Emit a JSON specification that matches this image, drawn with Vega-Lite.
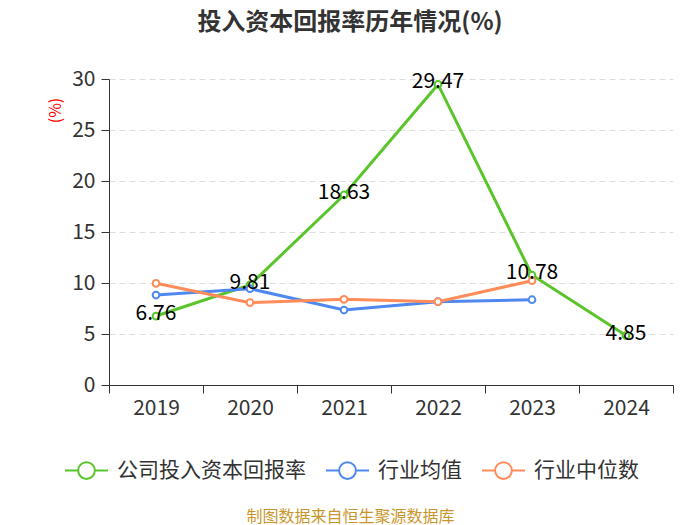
{
  "$schema": "https://vega.github.io/schema/vega-lite/v6.json",
  "autosize": "none",
  "width": 564,
  "height": 306,
  "padding": {"left": 109, "top": 79, "right": 27, "bottom": 140},
  "background": "white",
  "title": {
    "text": "投入资本回报率历年情况(%)",
    "font": "Noto Sans CJK SC",
    "fontSize": 24,
    "fontWeight": "bold",
    "color": "#333333",
    "anchor": "middle",
    "dx": -41,
    "offset": 33
  },
  "data": {
    "values": [
      {"year": "2019", "series": "公司投入资本回报率", "value": 6.76},
      {"year": "2020", "series": "公司投入资本回报率", "value": 9.81},
      {"year": "2021", "series": "公司投入资本回报率", "value": 18.63},
      {"year": "2022", "series": "公司投入资本回报率", "value": 29.47},
      {"year": "2023", "series": "公司投入资本回报率", "value": 10.78},
      {"year": "2024", "series": "公司投入资本回报率", "value": 4.85},
      {"year": "2019", "series": "行业均值", "value": 8.82},
      {"year": "2020", "series": "行业均值", "value": 9.44},
      {"year": "2021", "series": "行业均值", "value": 7.35},
      {"year": "2022", "series": "行业均值", "value": 8.17},
      {"year": "2023", "series": "行业均值", "value": 8.36},
      {"year": "2019", "series": "行业中位数", "value": 9.97},
      {"year": "2020", "series": "行业中位数", "value": 8.07},
      {"year": "2021", "series": "行业中位数", "value": 8.4},
      {"year": "2022", "series": "行业中位数", "value": 8.17},
      {"year": "2023", "series": "行业中位数", "value": 10.22}
    ]
  },
  "encoding": {
    "x": {
      "field": "year",
      "type": "ordinal",
      "bandPosition": 0.5,
      "scale": {"type": "band", "paddingInner": 0, "paddingOuter": 0},
      "axis": {
        "labelAngle": 0,
        "labelFont": "Noto Sans CJK SC",
        "labelFontSize": 21,
        "labelColor": "#333333",
        "labelPadding": 4,
        "tickSize": 8,
        "tickColor": "#333333",
        "tickBand": "extent",
        "domainColor": "#333333",
        "grid": false,
        "title": "制图数据来自恒生聚源数据库",
        "titleFont": "Noto Sans CJK SC",
        "titleFontSize": 16,
        "titleFontWeight": "normal",
        "titleColor": "#c9962d",
        "titleX": 241,
        "titleY": 131,
        "titleAlign": "center",
        "titleBaseline": "middle"
      }
    },
    "y": {
      "field": "value",
      "type": "quantitative",
      "scale": {"domain": [0, 30]},
      "axis": {
        "values": [0, 5, 10, 15, 20, 25, 30],
        "labelFont": "Noto Sans CJK SC",
        "labelFontSize": 21,
        "labelColor": "#333333",
        "labelPadding": 6,
        "tickSize": 8,
        "tickColor": "#333333",
        "domainColor": "#333333",
        "gridColor": "#dddddd",
        "gridDash": [6, 4],
        "title": "(%)",
        "titleFont": "Noto Sans CJK SC",
        "titleFontSize": 16,
        "titleFontWeight": "normal",
        "titleColor": "red",
        "titleAngle": -90,
        "titleX": -54,
        "titleY": 31,
        "titleAlign": "center",
        "titleBaseline": "middle"
      }
    }
  },
  "layer": [
    {
      "mark": {
        "type": "line",
        "strokeWidth": 3,
        "point": {"filled": false, "fill": "white", "size": 45, "strokeWidth": 2}
      },
      "encoding": {
        "color": {
          "field": "series",
          "type": "nominal",
          "scale": {
            "domain": ["公司投入资本回报率", "行业均值", "行业中位数"],
            "range": ["#5ac52a", "#4f88f0", "#ff8c5a"]
          },
          "legend": {
            "orient": "none",
            "legendX": -45,
            "legendY": 369,
            "direction": "horizontal",
            "title": null,
            "padding": 0,
            "symbolType": "M-1,0L-0.39,0M0.39,0A0.39,0.39,0,1,1,-0.39,0A0.39,0.39,0,1,1,0.39,0M0.39,0L1,0",
            "symbolSize": 1849,
            "symbolStrokeWidth": 2,
            "symbolFillColor": "white",
            "labelFont": "Noto Sans CJK SC",
            "labelFontSize": 21,
            "labelColor": "#333333",
            "labelOffset": 8,
            "labelLimit": 300,
            "columnPadding": 16
          }
        }
      }
    },
    {
      "transform": [{"filter": "datum.series == '公司投入资本回报率'"}],
      "mark": {
        "type": "text",
        "font": "Noto Sans CJK SC",
        "fontSize": 21,
        "color": "black",
        "dy": -2
      },
      "encoding": {
        "text": {"field": "value", "type": "quantitative", "format": ".2f"}
      }
    }
  ],
  "config": {
    "view": {"stroke": null}
  }
}
